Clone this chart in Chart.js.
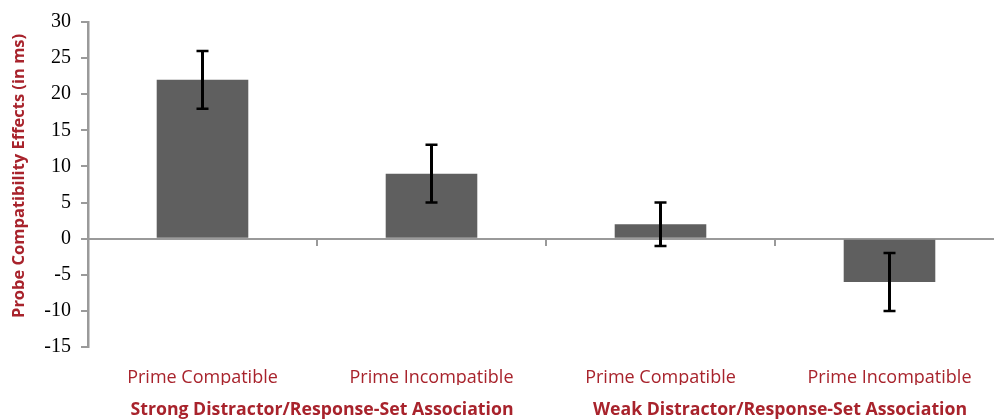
<!DOCTYPE html>
<html>
<head>
<meta charset="utf-8">
<script src="https://cdn.jsdelivr.net/npm/chart.js@4/dist/chart.umd.min.js"></script>
<style>
html,body{margin:0;padding:0;overflow:hidden;background:#fff;width:994px;height:419px;}
#wrap{position:absolute;left:0;top:0;width:1004px;height:419px;}
</style>
</head>
<body>
<div id="wrap"><canvas id="c" width="1004" height="419"></canvas></div>
<script>
const categories = ['Prime Compatible', 'Prime Incompatible', 'Prime Compatible', 'Prime Incompatible'];
const groupLabels = ['Strong Distractor/Response-Set Association', 'Weak Distractor/Response-Set Association'];
const effects = [22, 9, 2, -6];
const errorLow = [18, 5, -1, -10];
const errorHigh = [26, 13, 5, -2];
const yTitle = 'Probe Compatibility Effects (in ms)';

const RED = '#a8232c';
const AXIS = '#9a9a9a';

const errorBars = {
  id: 'errorBars',
  afterDatasetsDraw(chart) {
    const ctx = chart.ctx;
    const meta = chart.getDatasetMeta(0);
    const y = chart.scales.y;
    ctx.save();
    ctx.strokeStyle = '#000';
    meta.data.forEach((bar, i) => {
      const x = bar.x;
      const yl = y.getPixelForValue(errorLow[i]);
      const yh = y.getPixelForValue(errorHigh[i]);
      ctx.lineWidth = 3;
      ctx.beginPath(); ctx.moveTo(x, yl); ctx.lineTo(x, yh); ctx.stroke();
      ctx.lineWidth = 2.5;
      ctx.beginPath();
      ctx.moveTo(x - 6, yl); ctx.lineTo(x + 6, yl);
      ctx.moveTo(x - 6, yh); ctx.lineTo(x + 6, yh);
      ctx.stroke();
    });
    ctx.restore();
  }
};

new Chart(document.getElementById('c'), {
  type: 'bar',
  data: {
    labels: categories,
    datasets: [{
      data: effects,
      backgroundColor: '#5f5f5f',
      borderWidth: 0,
      categoryPercentage: 1,
      barPercentage: 0.4
    }]
  },
  options: {
    responsive: false,
    animation: false,
    events: [],
    layout: { padding: { top: 22, left: 0, right: 0, bottom: 0 } },
    plugins: { legend: { display: false }, tooltip: { enabled: false } },
    scales: {
      y: {
        min: -15, max: 30,
        ticks: { stepSize: 5, color: '#000', padding: 10,
          font: { family: 'Liberation Serif', size: 20 } },
        grid: { drawOnChartArea: false, color: AXIS, lineWidth: 2, tickLength: 7 },
        border: { color: AXIS, width: 2.5 },
        title: { display: true, text: '\u00A0\u00A0\u00A0\u00A0' + yTitle, color: RED,
          font: { family: 'Open Sans', size: 16.5, weight: 'bold' },
          padding: { top: 9, bottom: 0 } },
        afterFit(scale) { scale.width = 88; }
      },
      x: {
        position: { y: 0 },
        offset: true,
        ticks: { display: false },
        grid: { offset: true, drawOnChartArea: false, color: AXIS, lineWidth: 2, tickLength: 6 },
        border: { color: AXIS, width: 2 }
      },
      xl: {
        type: 'category',
        position: 'bottom',
        weight: 1,
        labels: categories,
        offset: true,
        grid: { display: false },
        border: { display: false },
        ticks: { color: RED, padding: 12, maxRotation: 0, autoSkip: false,
          font: { family: 'Open Sans', size: 18 } },
        afterFit(scale) { scale.height = 38; }
      },
      xg: {
        type: 'category',
        position: 'bottom',
        weight: 2,
        labels: groupLabels,
        offset: true,
        grid: { display: false },
        border: { display: false },
        ticks: { color: RED, padding: 6, maxRotation: 0, autoSkip: false, labelOffset: 5,
          font: { family: 'Open Sans', size: 17.7, weight: 'bold' } },
        afterFit(scale) { scale.height = 34; }
      }
    }
  },
  plugins: [errorBars]
});
</script>
</body>
</html>
